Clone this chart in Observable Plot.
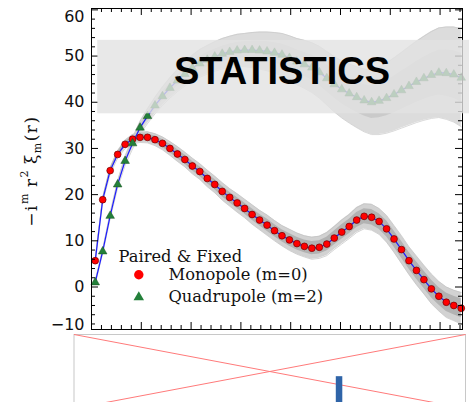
<!DOCTYPE html>
<html>
<head>
<meta charset="utf-8">
<script src="https://cdn.jsdelivr.net/npm/d3@7"></script>
<script src="https://cdn.jsdelivr.net/npm/@observablehq/plot@0.6"></script>
<style>
  body { margin: 0; background: white; }
  #wrap { position: relative; width: 469px; height: 402px; overflow: hidden; }
  #wrap svg { display: block; }
</style>
</head>
<body>
<div id="wrap"></div>
<script>
// ---- data ----
const r = [1.5,4.5,7.5,10.5,13.5,16.5,19.5,22.5,25.5,28.5,31.5,34.5,37.5,40.5,43.5,46.5,49.5,52.5,55.5,58.5,61.5,64.5,67.5,70.5,73.5,76.5,79.5,82.5,85.5,88.5,91.5,94.5,97.5,100.5,103.5,106.5,109.5,112.5,115.5,118.5,121.5,124.5,127.5,130.5,133.5,136.5,139.5,142.5,145.5,148.5];
const monopole = [5.7,18.9,25.2,28.7,30.9,32.0,32.4,32.4,31.9,31.1,30.0,28.8,27.6,26.2,25.0,23.5,22.2,20.7,19.4,18.2,17.0,15.7,14.5,13.4,12.2,11.1,10.2,9.4,8.8,8.4,8.6,9.3,10.6,11.9,13.1,14.5,15.3,15.1,14.2,12.6,10.4,8.1,5.7,3.6,1.6,-0.4,-2.0,-3.3,-4.0,-4.6];
const quadrupole = [1.0,7.7,15.4,22.2,27.3,31.1,34.5,37.0,39.3,41.3,43.1,44.7,46.1,47.4,48.4,49.2,49.9,50.5,50.9,51.2,51.3,51.3,51.2,51.0,50.7,50.3,49.6,48.8,48.2,47.5,46.5,45.2,43.9,42.8,41.9,41.1,40.4,40.0,40.3,40.9,41.7,42.6,43.5,44.4,45.2,45.9,46.4,46.3,46.0,45.3];
// half-width of the spread of the individual realisations (grey lines)
const monoSpread = [0.4,0.5,0.7,0.8,0.9,1.0,1.1,1.2,1.3,1.4,1.5,1.6,1.6,1.7,1.7,1.8,1.8,1.9,1.9,2.0,2.0,2.1,2.1,2.2,2.2,2.2,2.3,2.3,2.3,2.4,2.4,2.5,2.5,2.6,2.6,2.7,2.7,2.8,2.8,2.9,2.9,3.0,3.0,3.1,3.1,3.2,3.2,3.3,3.3,3.4];
const quadSpread = [0.3,0.4,0.6,0.8,1.0,1.2,1.4,1.6,1.8,2.0,2.2,2.4,2.6,2.8,3.0,3.1,3.2,3.3,3.4,3.5,3.6,3.8,4.0,4.2,4.4,4.6,4.8,5.0,5.2,5.4,5.6,5.8,6.0,6.2,6.4,6.6,6.8,7.0,7.3,7.6,7.9,8.2,8.5,8.8,9.1,9.4,9.7,10.0,10.3,10.6];

const yTickLabels = [0, 10, 20, 30, 40, 50];
const yTopLabel = [60];
const yBottomLabel = [-10];
const yMajorTicks = [0, 10, 20, 30, 40, 50, 60];
const xMajorTicks = [20, 40, 60, 80, 100, 120, 140];

const legendTitle = ["Paired & Fixed"];
const legendLabels = ["Monopole (m=0)", "Quadrupole (m=2)"];

const statBox = [{x1: 2.5, x2: 151.8, y1: 37.5, y2: 53.4}];
const statLabel = [{text: "STATISTICS", x: 76.5, y: 44.0}];

// lower (placeholder) panel
const placeholderDiagonals = [{x1: 0, y1: 1, x2: 1, y2: 0}, {x1: 0, y1: 0, x2: 1, y2: 1}];
const lowerBars = [{x: 0.677, value: 0.43}];

// ---- build table ----
const rows = r.map((rv, i) => ({
  r: rv,
  mono: monopole[i], monoLo: monopole[i] - monoSpread[i], monoHi: monopole[i] + monoSpread[i],
  monoLo2: monopole[i] - 0.6 * monoSpread[i], monoHi2: monopole[i] + 0.6 * monoSpread[i],
  quad: quadrupole[i], quadLo: quadrupole[i] - quadSpread[i], quadHi: quadrupole[i] + quadSpread[i],
  quadLo2: quadrupole[i] - 0.5 * quadSpread[i], quadHi2: quadrupole[i] + 0.5 * quadSpread[i]
}));

const W = 469, H = 333, mL = 91, mR = 7, mT = 8, mB = 4;
const frameW = W - mL - mR, frameH = H - mT - mB;
const yMinor = d3.range(-8, 61, 2).filter(v => v % 10 !== 0);
const xMinor = d3.range(4, 149, 4).filter(v => v % 20 !== 0);
const blue = "#1c1cff";
const legendFont = {fontFamily: "DejaVu Serif", fontSize: 16.3, fill: "#111", lineAnchor: "bottom", textAnchor: "start", frameAnchor: "top-left"};

const chart = Plot.plot({
  width: W, height: H,
  marginLeft: mL, marginRight: mR, marginTop: mT, marginBottom: mB,
  x: {domain: [0, 149], axis: null},
  y: {domain: [-9.2, 60.3]},
  style: {fontFamily: "DejaVu Sans", fontSize: "16px", color: "#111", overflow: "visible"},
  marks: [
    // realisation spreads
    Plot.areaY(rows, {x: "r", y1: "quadLo", y2: "quadHi", fill: "#dcdcdc"}),
    Plot.lineY(rows, {x: "r", y: "quadLo", stroke: "#c8c8c8", strokeWidth: 0.7}),
    Plot.lineY(rows, {x: "r", y: "quadHi", stroke: "#c8c8c8", strokeWidth: 0.7}),
    Plot.areaY(rows, {x: "r", y1: "quadLo2", y2: "quadHi2", fill: "#cacaca"}),
    Plot.areaY(rows, {x: "r", y1: "monoLo", y2: "monoHi", fill: "#d2d2d2"}),
    Plot.lineY(rows, {x: "r", y: "monoLo", stroke: "#c2c2c2", strokeWidth: 0.7}),
    Plot.lineY(rows, {x: "r", y: "monoHi", stroke: "#c2c2c2", strokeWidth: 0.7}),
    Plot.areaY(rows, {x: "r", y1: "monoLo2", y2: "monoHi2", fill: "#b2b2b2"}),
    // mean lines
    Plot.lineY(rows, {x: "r", y: "mono", stroke: blue, strokeWidth: 1.2}),
    Plot.lineY(rows, {x: "r", y: "quad", stroke: blue, strokeWidth: 1.2}),
    // markers
    Plot.dot(rows, {x: "r", y: "mono", r: 3.4, fill: "#ff0000", stroke: "#700000", strokeWidth: 0.7}),
    Plot.dot(rows, {x: "r", y: "quad", symbol: "triangle", r: 3.2, fill: "#23803a", stroke: "#16501f", strokeWidth: 0.5}),
    // frame and inward ticks
    Plot.frame({stroke: "black", strokeWidth: 1}),
    Plot.ruleY(yMajorTicks, {stroke: "black", insetRight: frameW - 7}),
    Plot.ruleY(yMinor, {stroke: "black", insetRight: frameW - 4}),
    Plot.ruleY(yMajorTicks, {stroke: "black", insetLeft: frameW - 7}),
    Plot.ruleY(yMinor, {stroke: "black", insetLeft: frameW - 4}),
    Plot.ruleX(xMajorTicks, {stroke: "black", insetBottom: frameH - 7}),
    Plot.ruleX(xMinor, {stroke: "black", insetBottom: frameH - 4}),
    Plot.ruleX(xMajorTicks, {stroke: "black", insetTop: frameH - 7}),
    Plot.ruleX(xMinor, {stroke: "black", insetTop: frameH - 4}),
    // y tick labels
    Plot.axisY({ticks: yTickLabels, tickSize: 0, tickPadding: 7, label: null, fontSize: 16}),
    Plot.axisY({ticks: yTopLabel, tickSize: 0, tickPadding: 7, label: null, fontSize: 16, dy: 7}),
    Plot.axisY({ticks: yBottomLabel, tickSize: 0, tickPadding: 7, label: null, fontSize: 16, dy: -8}),
    // legend
    Plot.text(legendTitle, {...legendFont, dx: 27, dy: 253}),
    Plot.dot([legendLabels[0]], {frameAnchor: "top-left", dx: 47.3, dy: 266.3, r: 4.7, fill: "#ff0000"}),
    Plot.text([legendLabels[0]], {...legendFont, dx: 77, dy: 271.3}),
    Plot.dot([legendLabels[1]], {frameAnchor: "top-left", dx: 47.3, dy: 288.7, r: 3.9, symbol: "triangle", fill: "#23803a"}),
    Plot.text([legendLabels[1]], {...legendFont, dx: 77, dy: 293.7}),
    // STATISTICS overlay
    Plot.rect(statBox, {x1: "x1", x2: "x2", y1: "y1", y2: "y2", fill: "#e2e2e2", fillOpacity: 0.8}),
    Plot.text(statLabel, {x: "x", y: "y", text: "text", lineAnchor: "bottom", textAnchor: "middle", fontFamily: "Liberation Sans", fontWeight: "bold", fontSize: 38, fill: "black"})
  ]
});

// y-axis title with super/subscripts
const svg = d3.select(chart);
const t = svg.append("text")
  .attr("transform", "translate(37,171) rotate(-90)")
  .attr("text-anchor", "middle")
  .attr("fill", "#111")
  .style("font-family", "DejaVu Serif")
  .style("font-size", "17px")
  .style("letter-spacing", "1.5px");
t.append("tspan").text("\u2212i");
t.append("tspan").attr("dy", -9).style("font-size", "11px").text("m");
t.append("tspan").attr("dy", 9).text("\u2009r");
t.append("tspan").attr("dy", -9).style("font-size", "11px").text("2");
t.append("tspan").attr("dy", 9).text("\u2009\u03be");
t.append("tspan").attr("dy", 4).style("font-size", "11px").text("m");
t.append("tspan").attr("dy", -4).text("(r)");

// lower placeholder panel
const lower = Plot.plot({
  width: W, height: 75,
  marginLeft: 73.5, marginRight: 4, marginTop: 1, marginBottom: 0,
  x: {domain: [0, 1], axis: null},
  y: {domain: [0, 1], axis: null},
  marks: [
    Plot.frame({stroke: "#c8c8c8"}),
    Plot.link(placeholderDiagonals, {x1: "x1", y1: "y1", x2: "x2", y2: "y2", stroke: "#ff7a7a", strokeWidth: 1}),
    Plot.ruleX(lowerBars, {x: "x", y1: 0, y2: "value", stroke: "#2f64a8", strokeWidth: 6.5})
  ]
});

const wrap = document.getElementById("wrap");
wrap.appendChild(chart);
wrap.appendChild(lower);
</script>
</body>
</html>
